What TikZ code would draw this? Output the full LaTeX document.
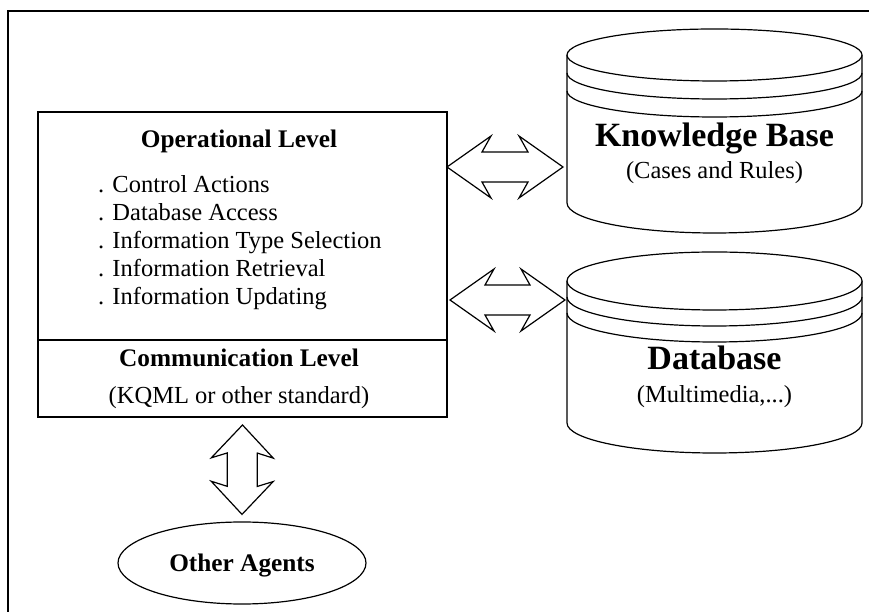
\documentclass[tikz,border=0pt]{standalone}
\usepackage{fontspec}
\setmainfont{Liberation Serif}
\usetikzlibrary{shapes,arrows,positioning,calc}

\tikzset{
  partline/.style={line width=1.2pt},
  itemtext/.style={font=\fontsize{24.5}{28}\selectfont, inner sep=0pt},
  headtext/.style={font=\fontsize{25.3}{29}\selectfont\bfseries, inner sep=0pt},
  storetext/.style={font=\fontsize{34}{38}\selectfont\bfseries, inner sep=0pt},
}

% hollow two-way arrow between two named points
\newcommand{\twowayarrow}[4]{%
  \draw[partline, line join=miter] (#1)
    -- ($(#1)!#3!(#2)!31pt!90:(#2)$)
    -- ($(#1)!#4!(#2)!15pt!90:(#2)$)
    -- ($(#2)!#4!(#1)!15pt!-90:(#1)$)
    -- ($(#2)!#3!(#1)!31pt!-90:(#1)$)
    -- (#2)
    -- ($(#2)!#3!(#1)!31pt!90:(#1)$)
    -- ($(#2)!#4!(#1)!15pt!90:(#1)$)
    -- ($(#1)!#4!(#2)!15pt!-90:(#2)$)
    -- ($(#1)!#3!(#2)!31pt!-90:(#2)$)
    -- cycle;}

\begin{document}
\begin{tikzpicture}[x=1pt, y=1pt]
    \useasboundingbox (0,0) rectangle (869,612);
    \draw [line width=1.6pt] (8,0) -- (8,601) -- (869,601);

    % agent box
    \node (agent) [draw, partline, rectangle, minimum width=409pt, minimum height=305pt, inner sep=0pt, outer sep=0pt, anchor=north west] at (38,500) {};
    \draw [partline] (agent.west |- 0,272) -- (agent.east |- 0,272);
    \node (oper) [headtext, anchor=base] at (239,464) {Operational Level};
    \foreach \task [count=\i] in {Control Actions, Database Access, Information Type Selection, Information Retrieval, Information Updating}
        \node (task\i) [itemtext, anchor=base west] at (98,447-28*\i) {. \task};
    \node (comm) [headtext, anchor=base] at (239,245) {Communication Level};
    \node (kqml) [itemtext, anchor=base] at (239,208) {(KQML or other standard)};

    % stores
    \foreach \ya/\yb/\ry/\gap in {557/409/26/18, 331/189/29/16} {
        \draw [partline] (567,\ya) -- (567,\yb) arc [start angle=180, end angle=360, x radius=147.5pt, y radius=30pt] -- (862,\ya);
        \draw [partline, fill=white] (714.5,\ya) ellipse [x radius=147.5pt, y radius=\ry pt];
        \draw [partline] (567,\ya-\gap) arc [start angle=180, end angle=360, x radius=147.5pt, y radius=\ry pt];
        \draw [partline] (567,\ya-2*\gap) arc [start angle=180, end angle=360, x radius=147.5pt, y radius=\ry pt];
    }
    \node (kb) [storetext, anchor=base] at (714.5,465) {Knowledge Base};
    \node (kbsub) [itemtext, anchor=base] at (714.5,433) {(Cases and Rules)};
    \node (db) [storetext, anchor=base] at (714.5,242) {Database};
    \node (dbsub) [itemtext, anchor=base] at (714.5,209) {(Multimedia,...)};

    \node (others) [draw, partline, ellipse, headtext, minimum width=248pt, minimum height=82pt, text depth=0pt] at (242,49) {Other Agents};

    % arrows
    \coordinate (kbfrom) at (agent.east |- 0,445);
    \coordinate (kbto) at (563,445);
    \coordinate (dbfrom) at (450,312);
    \coordinate (dbto) at (565,312);
    \coordinate (commfrom) at ($(agent.south)+(0,-8)$);
    \coordinate (othersto) at ($(others.north)+(0,7)$);
    \twowayarrow{kbfrom}{kbto}{44pt}{35pt}
    \twowayarrow{dbfrom}{dbto}{44pt}{35pt}
    \twowayarrow{commfrom}{othersto}{33pt}{28pt}
\end{tikzpicture}
\end{document}
